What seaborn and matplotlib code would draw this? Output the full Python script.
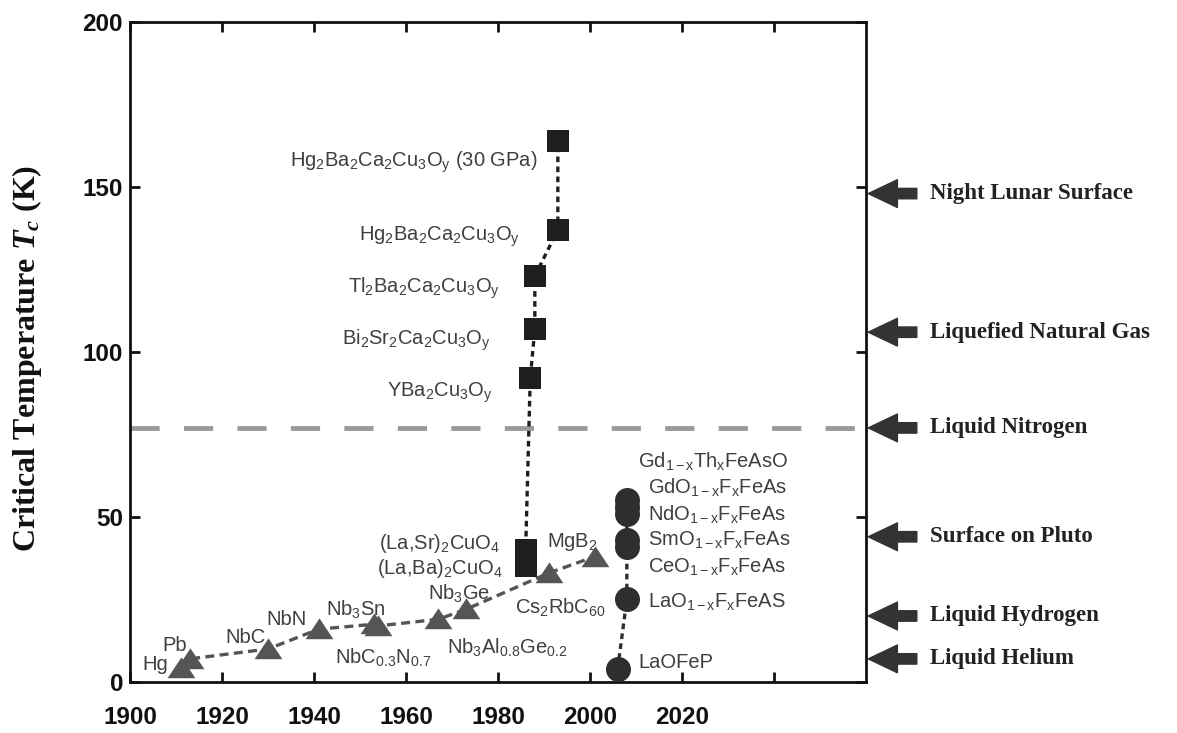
import numpy as np
import pandas as pd
import matplotlib
matplotlib.use('Agg')
import matplotlib.pyplot as plt
import seaborn as sns

# conventional / other superconductors (triangles)
tri_names = ['Hg', 'Pb', 'NbC', 'NbN', 'Nb$_3$Sn', 'NbC$_{0.3}$N$_{0.7}$',
             'Nb$_3$Al$_{0.8}$Ge$_{0.2}$', 'Nb$_3$Ge', 'Cs$_2$RbC$_{60}$', 'MgB$_2$']
tri_year = [1911, 1913, 1930, 1941, 1953, 1954, 1967, 1973, 1991, 2001]
tri_tc = [4.2, 7.0, 10, 16, 17.5, 17, 19, 22, 33, 38]

# cuprates (squares)
cup_names = ['(La,Ba)$_2$CuO$_4$', '(La,Sr)$_2$CuO$_4$', 'YBa$_2$Cu$_3$O$_y$',
             'Bi$_2$Sr$_2$Ca$_2$Cu$_3$O$_y$', 'Tl$_2$Ba$_2$Ca$_2$Cu$_3$O$_y$',
             'Hg$_2$Ba$_2$Ca$_2$Cu$_3$O$_y$', 'Hg$_2$Ba$_2$Ca$_2$Cu$_3$O$_y$ (30 GPa)']
cup_year = [1986, 1986, 1987, 1988, 1988, 1993, 1993]
cup_tc = [35, 40, 92, 107, 123, 137, 164]

# iron based (circles)
fe_names = ['LaOFeP', 'LaO$_{1-x}$F$_x$FeAS', 'CeO$_{1-x}$F$_x$FeAs', 'SmO$_{1-x}$F$_x$FeAs',
            'NdO$_{1-x}$F$_x$FeAs', 'GdO$_{1-x}$F$_x$FeAs', 'Gd$_{1-x}$Th$_x$FeAsO']
fe_year = [2006, 2008, 2008, 2008, 2008, 2008, 2008]
fe_tc = [4, 25, 41, 43, 51, 53, 55]

# reference temperatures (arrows on the right)
ref_names = ['Night Lunar Surface', 'Liquefied Natural Gas', 'Liquid Nitrogen',
             'Surface on Pluto', 'Liquid Hydrogen', 'Liquid Helium']
ref_temp = [148, 106, 77, 44, 20, 7]

tri = pd.DataFrame({'year': tri_year, 'tc': tri_tc})
cup = pd.DataFrame({'year': cup_year, 'tc': cup_tc})
fe = pd.DataFrame({'year': fe_year, 'tc': fe_tc})

sns.set_theme(style='ticks')
plt.rcParams['font.family'] = ['Liberation Sans', 'DejaVu Sans']
plt.rcParams['mathtext.fontset'] = 'custom'
plt.rcParams['mathtext.default'] = 'regular'
plt.rcParams['mathtext.it'] = 'Liberation Serif:italic:bold'

fig = plt.figure(figsize=(11.77, 7.33), dpi=100)
ax = fig.add_axes([0.1105, 0.0696, 0.6253, 0.9004])

# liquid nitrogen line
ax.axhline(77, color='#9a9a9a', lw=3.5, dashes=(6, 5), zorder=1)

flat_tri = [(-1, -0.7), (1, -0.7), (0, 0.8)]
sns.lineplot(data=tri, x='year', y='tc', sort=False, estimator=None, ax=ax,
             color='#555555', lw=2.4, linestyle=(0, (2.7, 1.6)),
             marker=flat_tri, markersize=20, markeredgewidth=0, zorder=3)
sns.lineplot(data=cup, x='year', y='tc', sort=False, estimator=None, ax=ax,
             color='#1e1e1e', lw=2.4, linestyle=(0, (1.7, 1.3)),
             marker='s', markersize=16.5, markeredgewidth=0, zorder=3)
sns.lineplot(data=fe, x='year', y='tc', sort=False, estimator=None, ax=ax,
             color='#2e2e2e', lw=2.4, linestyle=(0, (1.7, 1.3)),
             marker='o', markersize=18, markeredgewidth=0, zorder=3)

lab = dict(fontsize=14.5, color='#3f3f3f', va='center')

# text anchors for the material names
tri_pos = [(1905.4, 5.2), (1909.8, 11.2), (1925, 13.6), (1934, 18.8), (1949, 21.8),
           (1955, 7.3), (1982, 10.3), (1971.5, 26.7), (1993.5, 22.4), (1990.7, 42.4)]
for i, (name, (px, py)) in enumerate(zip(tri_names, tri_pos)):
    ax.text(px, py, name, ha='left' if i == 9 else 'center', zorder=2, **lab)

cup_pos = [(1981.1, 34.5), (1980.4, 42.1), (1978.9, 87.6), (1978.3, 103.6),
           (1980.4, 119.4), (1984.8, 134.8), (1988.5, 157.6)]
for name, (px, py) in zip(cup_names, cup_pos):
    ax.text(px, py, name, ha='right', **lab)

fe_pos = [(2010.4, 6), (2012.6, 24.2), (2012.6, 34.8), (2012.6, 43),
          (2012.6, 50.6), (2012.6, 58.8), (2010.4, 66.7)]
for name, (px, py) in zip(fe_names, fe_pos):
    ax.text(px, py, name, ha='left', **lab)

# arrows with reference temperatures
trans = ax.get_yaxis_transform()
for name, t in zip(ref_names, ref_temp):
    ax.annotate('', xy=(1.003, t), xytext=(1.069, t), xycoords=trans, textcoords=trans,
                annotation_clip=False,
                arrowprops=dict(arrowstyle='simple,head_length=21,head_width=20,tail_width=7.5',
                                mutation_scale=1, color='#333333', shrinkA=0, shrinkB=0))
    ax.text(1.087, t, name, transform=trans, family='Liberation Serif', weight='bold',
            fontsize=16.5, color='#222222', va='center', ha='left')

ax.set_xlim(1900, 2060)
ax.set_ylim(0, 200)
xt = list(range(1900, 2041, 20))
ax.set_xticks(xt)
ax.set_xticklabels([str(v) if v <= 2020 else '' for v in xt])
ax.set_yticks([0, 50, 100, 150, 200])
ax.tick_params(direction='in', length=7, width=2, top=True, right=True,
               labelsize=17.5, colors='#111111')
ax.tick_params(axis='x', pad=17)
ax.tick_params(axis='y', pad=5)
for t in ax.get_xticklabels() + ax.get_yticklabels():
    t.set_fontweight('bold')
for s in ax.spines.values():
    s.set_linewidth(2)
    s.set_color('#111111')

ax.set_xlabel('')
ax.set_ylabel('Critical Temperature $\\mathit{T_c}$ (K)', family='Liberation Serif',
              weight='bold', fontsize=23, color='#111111')
ax.yaxis.set_label_coords(-0.117, 0.49)

fig.savefig('out.png', dpi=100)
